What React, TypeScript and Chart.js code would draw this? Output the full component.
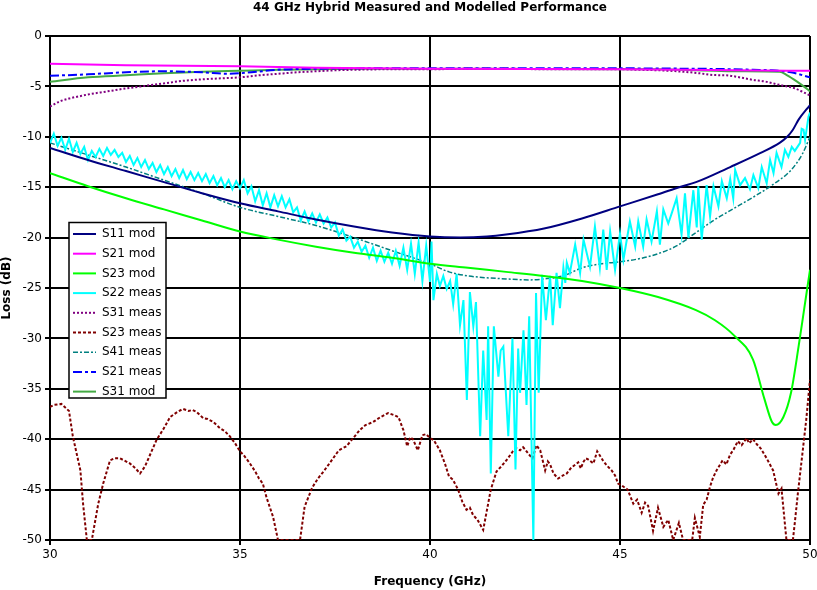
import React, { useEffect, useRef } from 'react';
import { Chart, registerables } from 'chart.js';

Chart.register(...registerables);

const TITLE = '44 GHz Hybrid Measured and Modelled Performance';
const X_TITLE = 'Frequency (GHz)';
const Y_TITLE = 'Loss (dB)';
const X_MIN = 30;
const X_MAX = 50;
const Y_MIN = -50;
const Y_MAX = 0;
const TICK_STEP = 5;

type P = [number, number];

const S11_MOD: P[] = [
  [30, -11.1], [31, -12.3], [32, -13.4], [33, -14.5], [34, -15.6], [35, -16.6], [36, -17.4],
  [37, -18.2], [38, -18.9], [39, -19.5], [40, -19.9], [40.8, -20.0], [41.5, -19.9], [42, -19.7],
  [43, -19.1], [44, -18.1], [45, -16.9], [46, -15.7], [46.6, -14.95], [47, -14.5], [47.9, -13.0],
  [48.7, -11.6], [49.2, -10.6], [49.4, -10.0], [49.55, -9.3], [49.7, -8.3], [50, -6.85],
];

const S21_MOD: P[] = [
  [30, -2.75], [32, -2.9], [35, -3.0], [37, -3.15], [40, -3.25], [45, -3.3], [48, -3.4], [50, -3.45],
];

const S23_MOD: P[] = [
  [30, -13.6], [31, -14.9], [32, -16.1], [33, -17.2], [34, -18.3], [35, -19.4], [36, -20.2],
  [37, -20.9], [38, -21.5], [39, -22.0], [40, -22.6], [41, -23.0], [42, -23.4], [43, -23.8],
  [44, -24.3], [45, -25.0], [46, -25.9], [47, -27.2], [47.5, -28.2], [48, -29.7], [48.5, -32.1],
  [48.8, -36.0], [49, -38.3], [49.1, -38.6], [49.3, -37.8], [49.5, -35.4], [49.7, -30.8],
  [49.85, -27.0], [50, -23.2],
];

// S22 measured, 30.0 .. 39.9 GHz at 0.1 GHz spacing
const S22_MEAS_LO_START = 30;
const S22_MEAS_LO_STEP = 0.1;
const S22_MEAS_LO: number[] = [
  -10.6, -9.7, -10.9, -10.1, -11.3, -10.2, -11.5, -10.6, -11.7, -11.0,
  -12.3, -11.4, -12.0, -11.2, -11.9, -11.1, -11.8, -11.3, -12.0, -11.6,
  -12.5, -11.9, -12.8, -12.1, -13.0, -12.3, -13.2, -12.6, -13.5, -12.8,
  -13.7, -13.0, -13.9, -13.2, -14.1, -13.3, -14.2, -13.5, -14.3, -13.6,
  -14.4, -13.7, -14.6, -13.9, -14.8, -14.1, -15.0, -14.3, -15.2, -14.4,
  -15.1, -14.3, -15.6, -14.9, -16.4, -15.3, -16.8, -15.6, -17.0, -15.8,
  -16.9, -15.9, -17.0, -16.2, -17.5, -17.0, -18.3, -17.4, -18.4, -17.6,
  -18.5, -17.7, -18.6, -18.0, -19.0, -18.5, -19.8, -19.2, -20.3, -19.9,
  -21.0, -20.4, -21.4, -20.8, -22.0, -21.0, -22.3, -21.3, -22.4, -21.5,
  -22.6, -21.3, -22.8, -21.0, -23.2, -20.6, -23.6, -20.5, -24.3, -20.8,
];

// S22 measured, 40 .. 50 GHz
const S22_MEAS_HI: P[] = [
  [40.0, -24.4], [40.04, -20.4], [40.09, -26.2], [40.18, -23.6], [40.26, -24.8], [40.35, -23.8],
  [40.44, -25.1], [40.53, -24.3], [40.61, -26.6], [40.7, -23.6], [40.79, -28.7], [40.88, -26.2],
  [40.97, -36.1], [41.05, -25.4], [41.14, -28.8], [41.21, -26.4], [41.32, -39.7], [41.4, -31.2],
  [41.49, -38.1], [41.53, -28.8], [41.6, -43.4], [41.68, -28.8], [41.8, -33.8], [41.86, -31.2],
  [41.93, -30.8], [42.06, -39.7], [42.17, -30.0], [42.25, -43.0], [42.32, -31.0], [42.37, -35.4],
  [42.46, -29.2], [42.54, -36.6], [42.61, -27.8], [42.72, -50.0], [42.79, -25.5], [42.86, -35.4],
  [42.95, -23.7], [43.05, -28.2], [43.16, -23.8], [43.23, -28.7], [43.33, -23.5], [43.42, -27.0],
  [43.51, -23.0], [43.56, -24.5], [43.6, -22.5], [43.68, -23.5], [43.82, -20.7], [43.95, -23.5],
  [44.04, -20.2], [44.21, -22.9], [44.34, -18.9], [44.47, -23.0], [44.56, -19.2], [44.65, -23.2],
  [44.74, -19.4], [44.87, -23.2], [45.0, -19.6], [45.09, -22.2], [45.26, -18.4], [45.4, -20.9],
  [45.48, -18.4], [45.61, -20.9], [45.7, -18.2], [45.83, -20.4], [45.97, -17.4], [46.05, -20.7],
  [46.14, -17.2], [46.27, -18.6], [46.36, -17.6], [46.49, -16.1], [46.62, -19.7], [46.71, -15.6],
  [46.8, -20.0], [46.93, -15.3], [47.02, -19.0], [47.06, -14.9], [47.15, -20.2], [47.28, -14.8],
  [47.37, -17.9], [47.46, -14.9], [47.59, -16.9], [47.68, -14.4], [47.81, -16.1], [47.9, -14.2],
  [47.98, -16.1], [48.03, -13.3], [48.16, -14.8], [48.29, -14.1], [48.42, -15.2], [48.51, -13.8],
  [48.64, -15.1], [48.73, -13.0], [48.86, -14.6], [48.95, -12.3], [49.04, -13.6], [49.12, -11.6],
  [49.25, -13.0], [49.34, -11.3], [49.43, -12.0], [49.52, -11.0], [49.6, -11.4], [49.74, -10.6],
  [49.78, -9.2], [49.83, -9.3], [49.87, -10.3], [49.96, -8.0], [50.0, -7.6],
];

const S31_MEAS: P[] = [
  [30, -7.0], [30.25, -6.5], [30.5, -6.2], [30.75, -6.0], [31, -5.8], [31.5, -5.5], [32, -5.2],
  [32.5, -4.95], [33, -4.7], [33.5, -4.45], [34, -4.3], [34.5, -4.2], [35, -4.1], [35.5, -3.9],
  [36, -3.75], [36.5, -3.6], [37, -3.5], [37.5, -3.4], [38, -3.35], [39, -3.3], [40, -3.3],
  [41, -3.25], [42, -3.25], [43, -3.3], [44, -3.3], [45, -3.3], [45.5, -3.35], [46, -3.4],
  [46.5, -3.5], [47.1, -3.7], [47.45, -3.87], [47.8, -3.9], [48, -4.0], [48.5, -4.35],
  [48.8, -4.5], [49.2, -4.85], [49.6, -5.2], [50, -5.9],
];

const S23_MEAS: P[] = [
  [30.0, -36.8], [30.1, -36.6], [30.3, -36.5], [30.5, -37.2], [30.6, -39.7], [30.8, -43.1],
  [30.87, -46.4], [30.97, -50], [31.1, -50], [31.27, -46.4], [31.4, -44.4], [31.58, -42.1],
  [31.7, -41.9], [31.84, -41.9], [31.95, -42.1], [32.1, -42.4], [32.25, -42.9], [32.37, -43.4],
  [32.5, -42.7], [32.65, -41.4], [32.8, -40.1], [33.0, -38.9], [33.16, -37.8], [33.35, -37.3],
  [33.5, -37.0], [33.65, -37.2], [33.75, -37.1], [33.86, -37.3], [34.03, -37.9], [34.15, -38.0],
  [34.3, -38.3], [34.47, -38.9], [34.6, -39.2], [34.74, -39.75], [34.87, -40.4], [35.0, -41.2],
  [35.1, -41.6], [35.26, -42.4], [35.4, -43.2], [35.5, -43.9], [35.6, -44.4], [35.7, -45.8],
  [35.87, -47.7], [36.0, -50], [36.58, -50], [36.7, -46.7], [36.9, -44.8], [37.05, -43.9],
  [37.2, -43.2], [37.45, -41.9], [37.6, -41.1], [37.8, -40.7], [38.0, -39.8], [38.15, -39.1],
  [38.3, -38.6], [38.5, -38.3], [38.7, -37.8], [38.9, -37.4], [39.05, -37.6], [39.17, -37.8],
  [39.3, -39.1], [39.4, -40.7], [39.48, -39.8], [39.55, -40.0], [39.68, -41.1], [39.8, -39.6],
  [39.9, -39.5], [40.0, -39.9], [40.1, -40.1], [40.26, -41.1], [40.4, -42.5], [40.5, -43.7],
  [40.6, -44.0], [40.74, -45.0], [40.85, -46.2], [40.96, -47.0], [41.05, -46.8], [41.13, -47.5],
  [41.25, -48.0], [41.4, -49.0], [41.5, -47.0], [41.6, -45.0], [41.75, -43.2], [41.9, -42.6],
  [42.05, -41.9], [42.18, -41.2], [42.27, -40.9], [42.37, -41.1], [42.45, -40.8], [42.5, -41.0],
  [42.6, -41.5], [42.7, -41.9], [42.8, -40.6], [42.9, -41.1], [43.03, -43.1], [43.1, -42.2],
  [43.16, -42.5], [43.25, -43.4], [43.37, -43.9], [43.5, -43.6], [43.6, -43.4], [43.7, -42.9],
  [43.76, -42.7], [43.9, -42.3], [43.97, -42.9], [44.03, -42.3], [44.1, -41.9], [44.16, -42.0],
  [44.3, -42.4], [44.4, -41.2], [44.5, -41.8], [44.55, -42.1], [44.65, -42.6], [44.78, -43.1],
  [44.87, -43.6], [44.95, -44.4], [45.05, -44.6], [45.2, -45.0], [45.35, -46.4], [45.45, -46.0],
  [45.57, -47.3], [45.66, -46.3], [45.74, -46.6], [45.87, -49.1], [46.0, -46.8], [46.14, -48.7],
  [46.27, -48.0], [46.4, -50], [46.55, -48.3], [46.66, -50], [46.9, -50], [46.97, -47.8],
  [47.1, -49.7], [47.19, -46.5], [47.28, -46.0], [47.37, -44.7], [47.45, -43.8], [47.54, -43.1],
  [47.7, -42.1], [47.8, -42.5], [47.9, -41.5], [47.98, -41.1], [48.1, -40.2], [48.2, -40.6],
  [48.33, -39.9], [48.4, -40.4], [48.5, -40.0], [48.6, -40.5], [48.7, -40.9], [48.86, -41.9],
  [49.03, -43.1], [49.17, -45.4], [49.25, -44.9], [49.38, -50], [49.55, -50], [49.6, -48.3],
  [49.68, -45.4], [49.78, -42.1], [49.9, -38.1], [50.0, -34.1],
];

const S41_MEAS: P[] = [
  [30, -10.6], [31, -11.8], [32, -13.0], [33, -14.3], [34, -15.6], [35, -17.0], [36, -17.9],
  [37, -18.8], [38, -20.0], [39, -21.3], [40, -22.6], [40.5, -23.4], [41, -23.8], [42, -24.1],
  [42.6, -24.2], [43, -24.1], [43.5, -23.8], [44, -23.0], [44.5, -22.6], [45, -22.4],
  [45.5, -22.1], [46, -21.6], [46.5, -20.8], [47, -19.5], [47.5, -18.2], [48, -17.1],
  [48.5, -16.0], [49, -14.8], [49.5, -13.3], [49.8, -11.7], [50, -10.0],
];

const S21_MEAS: P[] = [
  [30, -3.95], [31, -3.8], [32, -3.6], [33, -3.5], [34, -3.6], [34.7, -3.75], [35.3, -3.6],
  [36, -3.35], [37, -3.25], [40, -3.2], [44, -3.2], [47, -3.25], [48, -3.3], [48.5, -3.35],
  [49, -3.4], [49.5, -3.6], [50, -4.1],
];

const S31_MOD: P[] = [
  [30, -4.55], [31, -4.1], [32, -3.9], [33, -3.7], [34, -3.55], [35, -3.45], [36, -3.35],
  [37, -3.3], [38, -3.25], [46, -3.3], [47, -3.4], [47.5, -3.45], [48.2, -3.5], [49.2, -3.55],
  [49.4, -3.9], [49.65, -4.5], [49.87, -5.1], [50, -5.5],
];

const FONT = 'DejaVu Sans';

function toXY(pts: P[]) {
  return pts.map(([x, y]) => ({ x, y }));
}

function s22Points() {
  const lo = S22_MEAS_LO.map((y, i) => ({
    x: Math.round((S22_MEAS_LO_START + i * S22_MEAS_LO_STEP) * 100) / 100,
    y,
  }));
  return lo.concat(toXY(S22_MEAS_HI));
}

const legendPlugin = {
  id: 'boxLegend',
  afterDatasetsDraw(chart: any) {
    const { ctx, chartArea } = chart;
    const x0 = chartArea.left + 19;
    const y0 = chartArea.top + 186.5;
    const w = 97;
    const h = 175.5;
    ctx.save();
    ctx.fillStyle = '#ffffff';
    ctx.fillRect(x0, y0, w, h);
    ctx.lineWidth = 1.5;
    ctx.strokeStyle = '#000000';
    ctx.setLineDash([]);
    ctx.strokeRect(x0, y0, w, h);
    ctx.font = `12px "${FONT}"`;
    ctx.textBaseline = 'middle';
    ctx.textAlign = 'left';
    chart.data.datasets.forEach((ds: any, i: number) => {
      const y = y0 + 11.5 + i * 19.7;
      ctx.beginPath();
      ctx.setLineDash(ds.borderDash || []);
      ctx.lineWidth = ds.borderWidth;
      ctx.strokeStyle = ds.borderColor;
      ctx.moveTo(x0 + 4, y);
      ctx.lineTo(x0 + 27, y);
      ctx.stroke();
      ctx.setLineDash([]);
      ctx.fillStyle = '#000000';
      ctx.fillText(ds.label, x0 + 33, y);
    });
    ctx.restore();
  },
};

export default function App() {
  const ref = useRef<HTMLCanvasElement | null>(null);

  useEffect(() => {
    document.body.style.margin = '0';
    const canvas = ref.current;
    if (!canvas) return;

    const mk = (label: string, data: any[], color: string, width: number, dash: number[], smooth: boolean) => ({
      label,
      data,
      borderColor: color,
      backgroundColor: color,
      borderWidth: width,
      borderDash: dash,
      showLine: true,
      pointRadius: 0,
      pointHoverRadius: 0,
      fill: false,
      cubicInterpolationMode: smooth ? 'monotone' : 'default',
      tension: 0,
    });

    const chart = new Chart(canvas, {
      type: 'scatter',
      data: {
        datasets: [
          mk('S11 mod', toXY(S11_MOD), '#000080', 2, [], true),
          mk('S21 mod', toXY(S21_MOD), '#ff00ff', 2, [], true),
          mk('S23 mod', toXY(S23_MOD), '#00ff00', 2, [], true),
          mk('S22 meas', s22Points(), '#00ffff', 2, [], false),
          mk('S31 meas', toXY(S31_MEAS), '#800080', 2, [2, 2], true),
          mk('S23 meas', toXY(S23_MEAS), '#800000', 2, [3, 2], false),
          mk('S41 meas', toXY(S41_MEAS), '#008080', 1.5, [5, 2, 2, 2], true),
          mk('S21 meas', toXY(S21_MEAS), '#0000ff', 2, [9, 3, 3, 3], true),
          mk('S31 mod', toXY(S31_MOD), '#44aa44', 2, [], true),
        ] as any,
      },
      options: {
        responsive: false,
        animation: false,
        devicePixelRatio: 1,
        layout: { padding: { top: 0, right: 7, bottom: 0, left: 0 } },
        plugins: {
          legend: { display: false },
          tooltip: { enabled: false },
          title: {
            display: true,
            text: TITLE,
            fullSize: false,
            color: '#000',
            font: { family: FONT, size: 12, weight: 'bold' },
            padding: { top: 0.5, bottom: 21.1 },
          },
        },
        scales: {
          x: {
            type: 'linear',
            min: X_MIN,
            max: X_MAX,
            afterFit: (s: any) => { s.height = 50; s.paddingLeft = 0; s.paddingRight = 0; },
            ticks: {
              stepSize: TICK_STEP,
              color: '#000',
              font: { family: FONT, size: 12 },
              padding: 3,
              maxRotation: 0,
              callback: (v: any) => String(v),
            },
            grid: { color: '#000', lineWidth: 2, tickLength: 5 },
            border: { color: '#000', width: 2 },
            title: {
              display: true,
              text: X_TITLE,
              color: '#000',
              font: { family: FONT, size: 12, weight: 'bold' },
              padding: { top: 0, bottom: 1 },
            },
          },
          y: {
            type: 'linear',
            min: Y_MIN,
            max: Y_MAX,
            afterFit: (s: any) => { s.width = 50; },
            ticks: {
              stepSize: TICK_STEP,
              color: '#000',
              font: { family: FONT, size: 12 },
              padding: 3,
              callback: (v: any) => String(v),
            },
            grid: { color: '#000', lineWidth: 2, tickLength: 5 },
            border: { color: '#000', width: 2 },
            title: {
              display: true,
              text: Y_TITLE,
              color: '#000',
              font: { family: FONT, size: 12, weight: 'bold' },
              padding: { top: 0, bottom: 0 },
            },
          },
        },
      } as any,
      plugins: [legendPlugin],
    });

    return () => chart.destroy();
  }, []);

  return (
    <div style={{ width: 817, height: 590 }}>
      <canvas ref={ref} width={817} height={590} style={{ display: 'block' }} />
    </div>
  );
}
